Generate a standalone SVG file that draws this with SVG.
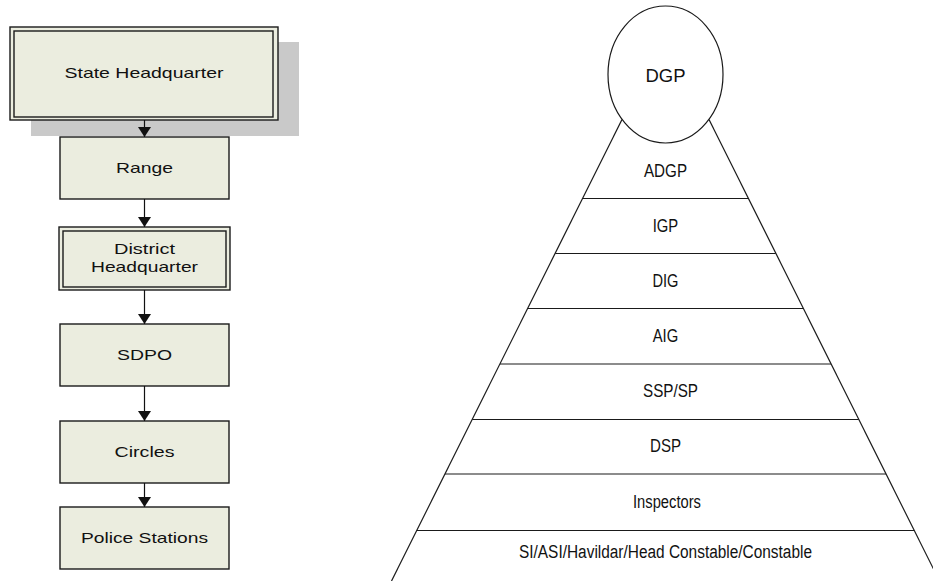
<svg xmlns="http://www.w3.org/2000/svg" width="933" height="581" viewBox="0 0 933 581">
  <style>
    .box { fill: #ebeddf; stroke: #1a1a1a; stroke-width: 1.4; }
    .shadow { fill: #c9c9c9; stroke: none; }
    .lbl { font-family: "Liberation Sans", Arial, sans-serif; font-size: 15px; fill: #111; text-anchor: middle; }
    .edge { stroke: #111; stroke-width: 1.2; fill: none; }
    .tier { stroke: #1a1a1a; stroke-width: 1.2; fill: none; }
    .rank { font-family: "Liberation Sans", Arial, sans-serif; font-size: 18px; fill: #111; text-anchor: middle; }
  </style>
  <defs>
    <marker id="arrow" markerUnits="userSpaceOnUse" markerWidth="10" markerHeight="13" refX="10" refY="6.5" orient="auto">
      <path d="M0,0 L10,6.5 L0,13 Z" fill="#111"/>
    </marker>
  </defs>
  <rect width="933" height="581" fill="#ffffff"/>

  <!-- Administrative chain -->
  <g id="state-hq">
    <rect class="shadow" x="31" y="42" width="268" height="94"/>
    <rect class="box" x="10" y="27" width="268" height="93"/>
    <rect class="box" x="14" y="31" width="259" height="86"/>
    <text class="lbl" x="144" y="78" textLength="159" lengthAdjust="spacingAndGlyphs">State Headquarter</text>
  </g>
  <g id="range">
    <rect class="box" x="60" y="137" width="169" height="62"/>
    <text class="lbl" x="144.5" y="173" textLength="57" lengthAdjust="spacingAndGlyphs">Range</text>
  </g>
  <g id="district-hq">
    <rect class="box" x="59" y="227" width="171" height="63"/>
    <rect class="box" x="63" y="231" width="163" height="56"/>
    <text class="lbl" x="144.5" y="254" textLength="61" lengthAdjust="spacingAndGlyphs">District</text>
    <text class="lbl" x="144.5" y="271.5" textLength="107" lengthAdjust="spacingAndGlyphs">Headquarter</text>
  </g>
  <g id="sdpo">
    <rect class="box" x="60" y="324" width="169" height="62"/>
    <text class="lbl" x="144.5" y="360" textLength="55" lengthAdjust="spacingAndGlyphs">SDPO</text>
  </g>
  <g id="circles">
    <rect class="box" x="60" y="421" width="169" height="62"/>
    <text class="lbl" x="144.5" y="457" textLength="60" lengthAdjust="spacingAndGlyphs">Circles</text>
  </g>
  <g id="police-stations">
    <rect class="box" x="60" y="507" width="169" height="62"/>
    <text class="lbl" x="144.5" y="543" textLength="127" lengthAdjust="spacingAndGlyphs">Police Stations</text>
  </g>

  <g id="connectors">
    <line class="edge" x1="144.5" y1="120" x2="144.5" y2="137" marker-end="url(#arrow)"/>
    <line class="edge" x1="144.5" y1="199" x2="144.5" y2="227" marker-end="url(#arrow)"/>
    <line class="edge" x1="144.5" y1="290" x2="144.5" y2="324" marker-end="url(#arrow)"/>
    <line class="edge" x1="144.5" y1="386" x2="144.5" y2="421" marker-end="url(#arrow)"/>
    <line class="edge" x1="144.5" y1="483" x2="144.5" y2="507" marker-end="url(#arrow)"/>
  </g>

  <!-- Rank pyramid -->
  <g id="pyramid">
    <line class="tier" x1="622" y1="119.5" x2="391.5" y2="581"/>
    <line class="tier" x1="709" y1="119.5" x2="939.5" y2="581"/>
    <line class="tier" x1="582.75" y1="198.5" x2="748.25" y2="198.5"/>
    <line class="tier" x1="555.25" y1="253.5" x2="775.75" y2="253.5"/>
    <line class="tier" x1="527.75" y1="308.5" x2="803.25" y2="308.5"/>
    <line class="tier" x1="500" y1="364" x2="831" y2="364"/>
    <line class="tier" x1="472.25" y1="419.5" x2="858.75" y2="419.5"/>
    <line class="tier" x1="445" y1="474" x2="886" y2="474"/>
    <line class="tier" x1="416.75" y1="530.5" x2="914.25" y2="530.5"/>
  </g>
  <g id="dgp">
    <ellipse cx="665.5" cy="74.5" rx="57.5" ry="68.5" fill="#ffffff" stroke="#1a1a1a" stroke-width="1.2"/>
    <text class="rank" x="665.5" y="82" font-size="23" textLength="40" lengthAdjust="spacingAndGlyphs">DGP</text>
  </g>
  <g id="ranks">
    <text class="rank" x="665.5" y="176.5" textLength="43" lengthAdjust="spacingAndGlyphs">ADGP</text>
    <text class="rank" x="665.5" y="232" textLength="25.5" lengthAdjust="spacingAndGlyphs">IGP</text>
    <text class="rank" x="665.5" y="287" textLength="26" lengthAdjust="spacingAndGlyphs">DIG</text>
    <text class="rank" x="665.5" y="342" textLength="25.5" lengthAdjust="spacingAndGlyphs">AIG</text>
    <text class="rank" x="670.5" y="397" textLength="55" lengthAdjust="spacingAndGlyphs">SSP/SP</text>
    <text class="rank" x="665.5" y="452" textLength="31" lengthAdjust="spacingAndGlyphs">DSP</text>
    <text class="rank" x="667" y="508" textLength="68" lengthAdjust="spacingAndGlyphs">Inspectors</text>
    <text class="rank" x="665.5" y="558" font-size="16" textLength="293" lengthAdjust="spacingAndGlyphs">SI/ASI/Havildar/Head Constable/Constable</text>
  </g>
</svg>
